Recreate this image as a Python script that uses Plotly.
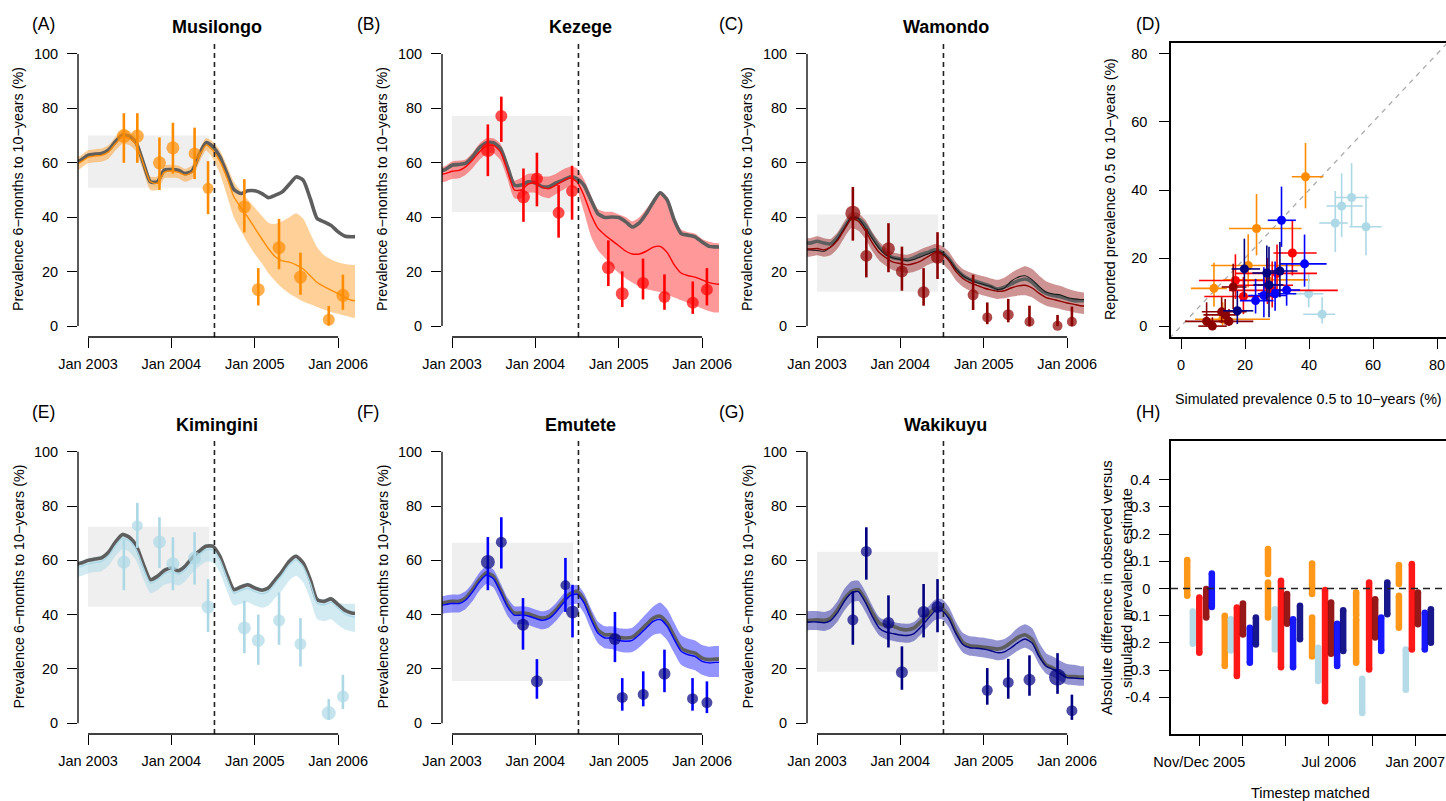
import plotly.graph_objects as go
import pandas as pd

W, H = 1446, 801
FONT = "Liberation Sans, Arial, Helvetica, sans-serif"

# ---------------- time grid / axes ----------------
MONTHS = pd.date_range("2002-11-01", "2006-04-01", freq="MS").strftime("%Y-%m-%d").tolist()
X_TICKS = ["2003-01-01", "2004-01-01", "2005-01-01", "2006-01-01"]
X_TICK_TEXT = ["Jan 2003", "Jan 2004", "Jan 2005", "Jan 2006"]
Y_TICKS = [0, 20, 40, 60, 80, 100]
INTERVENTION = "2004-07-08"
BOX_START, BOX_END = "2003-01-01", "2004-06-15"

# ---------------- (A) Musilongo ----------------
A_GREY = [59.5, 61, 62.8, 63.2, 63.4, 64.7, 67.7, 70.2, 69.8, 67.1, 59.8, 53, 53, 57.3, 57.5, 57.3, 56, 57, 62.8, 67.4,
          65.9, 62.2, 56, 50.2, 48.7, 49.7, 49.7, 48.7, 47.2, 48.1, 49.3, 52.1, 54.8, 53.6, 46.8, 39.5, 38.3, 37, 34.6, 33, 32.8, 33]
A_MED = [59, 60.3, 62, 62.5, 62.7, 64, 67, 69.5, 69, 66.5, 59.5, 53, 52.5, 56.5, 57, 56.5, 55.5, 56.5, 62, 66.5,
         64.5, 60.5, 54.5, 47.5, 43.5, 40, 36, 32, 28.5, 25.5, 24, 23.5, 22.5, 21, 18.5, 16, 14.5, 13.2, 12, 10.5, 9.5, 9.2]
A_HI = [61.5, 62.8, 64.6, 65, 65.2, 66.5, 69.5, 72, 71.6, 69, 61.6, 55, 55, 59, 59.3, 59, 57.8, 59, 64.5, 69,
        67.8, 64.5, 59, 53, 49.5, 46.5, 43.5, 40.5, 38, 37.5, 38.5, 40, 41.5, 39.5, 34, 29, 26, 24.5, 23.5, 22.8, 22.5, 22.5]
A_LO = [56.5, 58, 59.8, 60.2, 60.4, 61.5, 64.5, 67, 66.5, 64, 56.8, 50, 50, 54.3, 54.5, 54.3, 53, 54, 59.8, 64.5,
        61.5, 56, 48, 40, 35, 30.5, 26.5, 23, 19.5, 16.5, 14, 12, 10.5, 9, 8, 7, 6, 5.2, 4.5, 3.8, 3.2, 2.9]
A_DATES = ["2003-06-07", "2003-08-05", "2003-11-10", "2004-01-08", "2004-04-12", "2004-06-10",
           "2004-11-16", "2005-01-16", "2005-04-17", "2005-07-20", "2005-11-21", "2006-01-22"]
A_PREV = [69.8, 69.8, 60, 65.5, 63.4, 50.6, 43.8, 13.4, 28.8, 18.0, 2.3, 11.3]
A_ELO = [60, 60, 50, 56, 54, 41.1, 34.4, 7.6, 20.9, 11.5, 0.2, 6.0]
A_EHI = [78.2, 78.2, 69.3, 74.7, 72.9, 60.6, 54, 21.3, 39.4, 27, 7.4, 18.9]
A_SIZE = [14, 13, 13, 13, 12, 11, 13, 13, 13, 13, 12, 13]
A_BOX = [50.8, 70.0]

# ---------------- (B) Kezege ----------------
B_GREY = [56.7, 57.5, 59.1, 59.4, 59.8, 62.2, 65.5, 67.4, 67.4, 65.3, 58.5, 51.8, 51.8, 53, 52.6, 51.2, 51.2, 52.6, 53.6, 54.8,
          54.2, 51.8, 46.3, 41.3, 39.9, 40.1, 39.9, 38.3, 36.4, 37.9, 41.3, 45.6, 49, 46.3, 38.9, 34, 33.4, 32.8, 30.9, 29.3, 29.1, 29]
B_MED = [55.5, 56, 56.9, 57.2, 58.5, 61, 64, 66.2, 66.5, 64, 57, 50, 50, 52.2, 52.5, 51, 50.5, 51.8, 53.3, 54.5,
         53, 48, 41, 36, 33.5, 31.5, 29.5, 27.5, 26.5, 26.5, 27.5, 29, 29.3, 27, 22.5, 19.5, 18.5, 18, 17, 16, 15.5, 15.3]
B_HI = [58, 58.8, 60.5, 60.8, 61.2, 63.7, 67, 69, 69, 67, 60, 53.5, 54.5, 56, 56, 55, 55, 56, 57.5, 58.5,
        58, 54, 48, 43, 42, 42, 41, 40, 38.5, 40, 43, 46.5, 49.5, 47.5, 40, 35.5, 34.5, 34, 32, 31, 30.5, 30.5]
B_LO = [52.5, 53, 54, 54.3, 55.5, 58, 61, 63.2, 63.5, 61, 54, 47, 47, 49, 49, 47.5, 47, 48.5, 50, 51.5,
        50, 42, 33, 28, 25, 22, 19.5, 17.5, 16, 14.5, 13.5, 13, 12.5, 11.5, 10.5, 9.5, 8.5, 7.5, 6.5, 5.5, 5, 5]
B_DATES = A_DATES
B_PREV = [64.7, 77.2, 47.5, 54.2, 41.6, 49.6, 21.5, 11.9, 15.8, 10.7, 8.6, 13.4]
B_ELO = [55.1, 67.7, 38.3, 44, 32.5, 39.1, 14.7, 7.0, 9.8, 6.0, 4.5, 7.6]
B_EHI = [74.1, 84.3, 57.9, 63.7, 51.8, 58.9, 31.5, 20.1, 24.8, 19, 16.4, 21.3]
B_SIZE = [14, 12, 13, 12, 12, 12, 13, 13, 12, 12, 12, 12]
B_BOX = [41.9, 77.2]

# ---------------- (C) Wamondo ----------------
C_GREY = [30.8, 30.5, 31.2, 30.5, 30.2, 32.7, 36.4, 39.8, 39.4, 37, 32.7, 29, 26.5, 25.1, 24.7, 24.3, 25.1, 26.3, 27.1, 28,
          27.1, 24.7, 21, 18.6, 17.1, 16.3, 15.5, 14.6, 13.6, 14.3, 15.5, 16.7, 17.3, 16.1, 13.6, 12, 11.2, 10.8, 10, 9.3, 9.3, 9.3]
C_MED = [28.5, 28.3, 28.5, 28, 29, 31.5, 35.5, 39.5, 38.5, 35, 30.5, 27, 25, 23.5, 23, 22.5, 23, 24, 25.5, 27,
         26.5, 24, 20, 17.5, 16, 15, 14, 13.3, 12.8, 13, 14, 14.8, 15, 14, 12, 10.5, 9.8, 9.2, 8.5, 8, 7.5, 7.3]
C_HI = [32.5, 32.3, 33, 32.3, 32, 34.5, 38.5, 42, 41.5, 39, 34.5, 31, 28.5, 27, 26.5, 26.2, 27, 28.2, 29.2, 30.2,
        29.5, 27.3, 23.5, 21, 19.8, 19, 18.3, 17.5, 17, 17.8, 19.5, 21, 22, 21, 18.5, 16.5, 15.5, 14.8, 13.8, 13, 12.5, 12.3]
C_LO = [25.5, 25.5, 26, 25.5, 26, 28.5, 32.5, 36, 35, 32, 27.5, 24, 22, 20.5, 20, 19.5, 20, 21, 22.5, 23.5,
        23, 20.5, 16.8, 14.5, 13, 12, 11.2, 10.5, 10, 10.2, 10.8, 11.2, 11.3, 10.5, 8.8, 7.5, 6.8, 6.3, 5.6, 5, 4.6, 4.4]
C_BLACK = [28, 28, 27.8, 27.5, 29, 32, 36, 40, 39.5, 36, 32, 28.5, 26, 25, 24.5, 24, 24.5, 25.5, 26.5, 27.5,
           27, 24.5, 21, 18.5, 17, 16, 15.3, 14.5, 13.5, 14, 16.5, 18, 18.5, 17, 14.5, 12.5, 11.8, 11.5, 10.5, 10, 9.8, 9.8]
C_DATES = ["2003-06-07", "2003-08-05", "2003-11-10", "2004-01-08", "2004-04-12", "2004-06-12",
           "2004-11-15", "2005-01-16", "2005-04-18", "2005-07-20", "2005-11-20", "2006-01-22"]
C_PREV = [41.5, 25.8, 28.4, 20.1, 12.4, 25.3, 11.5, 3.2, 4.2, 1.6, 0.1, 1.6]
C_ELO = [31.4, 17.9, 19.8, 13, 7.5, 17.3, 5.9, 0.7, 1.4, 0, 0, 0]
C_EHI = [51.1, 35.7, 37.8, 29.2, 21.3, 34.5, 18.9, 8.7, 10, 7.5, 4.1, 7.2]
C_SIZE = [15, 12, 13, 12, 12, 13, 11, 10, 11, 10, 10, 10]
C_BOX = [12.6, 41.0]

# ---------------- (E) Kimingini ----------------
E_GREY = [58.4, 59, 60, 60.5, 60.9, 63, 66.7, 69.5, 68.5, 65.2, 58.4, 52.9, 54.1, 56.3, 57.2, 56.2, 57.8, 60.9, 63.3, 65.2,
          65.2, 61.5, 54.7, 49.2, 50.2, 51, 49.8, 49, 49.8, 52.9, 56, 59.7, 61.5, 59, 52.9, 45.5, 44.9, 45.8, 43.7, 41.5, 40.6, 40.5]
E_MED = [57, 57.7, 58.7, 59.2, 59.6, 61.7, 65.4, 68.2, 67.2, 63.9, 57.1, 51.6, 52.8, 55, 55.9, 54.9, 56.5, 59.6, 62, 63.9,
         63.9, 60.2, 53.4, 47.9, 48.9, 49.7, 48.5, 47.7, 48.5, 51.6, 54.7, 58.4, 60.2, 57.7, 51.6, 44.2, 43.6, 44.5, 42.4, 40.2, 39.3, 39.2]
E_HI = [59.2, 59.8, 60.8, 61.3, 61.7, 63.8, 67.5, 70.3, 69.3, 66, 59.2, 53.7, 54.9, 57.1, 58, 57, 58.6, 61.7, 64.1, 66,
        66, 62.3, 55.5, 50, 51, 51.8, 50.6, 49.8, 50.6, 53.7, 56.8, 60.5, 62.3, 59.8, 53.7, 46.3, 45.7, 46.6, 44.5, 44, 44, 44]
E_LO = [53.5, 54.2, 55.2, 55.7, 56, 58, 61.5, 64.2, 63.2, 59.8, 53, 48, 49, 51, 51.7, 50.7, 52.2, 55.3, 57.7, 59.5,
        59.3, 55.5, 48.7, 43.3, 44, 44.6, 43.4, 42.6, 43.3, 46.2, 49, 52.6, 54.3, 51.8, 45.6, 38.4, 37.6, 38.3, 36.2, 34.5, 33.8, 33.6]
E_DATES = A_DATES
E_PREV = [59.3, 72.8, 66.8, 58.8, 60.9, 42.8, 35.1, 30.5, 37.8, 29.2, 3.7, 9.8]
E_ELO = [49, 64.6, 57.2, 49, 51.1, 33.6, 25.8, 21.5, 28.9, 20.9, 1.2, 5.2]
E_EHI = [67.9, 81.2, 75.9, 68.5, 70.4, 53.1, 45.1, 40, 48.2, 38.7, 8.9, 17.8]
E_SIZE = [13, 11, 13, 13, 13, 13, 13, 13, 12, 12, 14, 12]
E_BOX = [42.9, 72.4]

# ---------------- (F) Emutete ----------------
F_GREY = [44, 44.5, 44.9, 44.9, 46.1, 49.2, 52.9, 55.4, 54.1, 49.2, 43.7, 40.6, 40.6, 40.3, 39.4, 38.7, 39.4, 41.8, 44.9, 47.7,
          48.6, 45.5, 39.4, 34.4, 32.6, 32.6, 31.7, 31.4, 31.7, 33.8, 36.3, 38.7, 39.4, 36.9, 32, 27.7, 26.4, 25.8, 24, 23.4, 23.6, 23.6]
F_MED = [43.2, 43.7, 44.1, 44.1, 45.3, 48.4, 52.1, 54.6, 53.3, 48.4, 42.9, 39.8, 39.8, 39.5, 38.6, 37.9, 38.6, 41, 44.1, 46.9,
         47.6, 44.4, 38.3, 33.2, 31.4, 31.4, 30.5, 30.2, 30.5, 32.6, 35.1, 37.5, 38.2, 35.7, 30.8, 26.5, 25.2, 24.6, 22.8, 22.2, 22.4, 22.4]
F_HI = [46.5, 47, 47.4, 47.4, 48.6, 51.7, 55.4, 57.9, 56.6, 51.7, 46.2, 43.1, 43.1, 42.8, 41.9, 41.2, 41.9, 44.3, 47.4, 50.2,
        51, 48, 42.3, 37.5, 35.7, 35.7, 35, 34.8, 35.2, 37.6, 40.3, 43, 44.5, 42, 37, 32.5, 31.2, 30.5, 28.8, 28.2, 28.4, 28.4]
F_LO = [40, 40.5, 40.8, 40.8, 42, 45, 48.8, 51.3, 50, 45, 39.6, 36.5, 36.5, 36.2, 35.3, 34.6, 35.3, 37.7, 40.8, 43.5,
        44, 40.6, 34.5, 29.5, 27.5, 27.3, 26.4, 26, 26.2, 28, 30.3, 32.5, 33, 30.5, 25.8, 21.5, 20.2, 19.5, 17.8, 17, 17, 17]
F_DATES = ["2003-06-07", "2003-08-05", "2003-11-08", "2004-01-08", "2004-05-12", "2004-06-12",
           "2004-12-15", "2005-01-16", "2005-04-18", "2005-07-20", "2005-11-20", "2006-01-22"]
F_PREV = [59.4, 66.7, 36.3, 15.4, 50.8, 41, 31, 9.5, 10.6, 18.2, 9.0, 7.6]
F_ELO = [49, 57, 27.1, 9.0, 41, 31.6, 22.5, 4.6, 6.2, 11.4, 4.6, 3.7]
F_EHI = [68.6, 75.9, 46.1, 23.6, 60.9, 51, 41, 16.6, 19.1, 27.1, 16.6, 15.4]
F_SIZE = [14, 11, 12, 12, 10, 13, 12, 11, 11, 12, 11, 11]
F_BOX = [15.5, 66.5]

# ---------------- (G) Wakikuyu ----------------
G_GREY = [37.5, 37.9, 38.1, 37.9, 38.7, 41.8, 45.8, 48.6, 49.2, 45.5, 40.6, 36.9, 35.9, 35.7, 34.7, 34.4, 35.1, 37.5, 40, 42.4,
          42.4, 39.4, 33.8, 29.8, 28.5, 28.3, 28, 27.7, 27.3, 28, 29.8, 31.7, 32.6, 30.8, 25.2, 21.5, 20.3, 18.7, 17.2, 17.2, 17, 17]
G_MED = [37, 37.3, 37.3, 37, 37.8, 40.8, 45, 48, 48.5, 44.5, 39.2, 35, 33.5, 33, 32.5, 32.3, 33, 35.5, 38.5, 41.3,
         41.5, 38.5, 33, 29, 27.8, 27.6, 27.3, 26.7, 26, 26.3, 27.8, 29.8, 31, 29.5, 24.5, 21, 19.8, 18.2, 16.8, 16.6, 16.4, 16.4]
G_HI = [41, 41.3, 41.3, 41, 41.8, 45, 49.5, 52.3, 52.5, 48.5, 43.2, 39, 37.8, 37.3, 36.8, 36.6, 37.3, 39.8, 42.8, 45.5,
        45.8, 42.8, 37.3, 33.3, 32, 31.8, 31.5, 31, 30.5, 31, 32.8, 35.3, 36.5, 35, 29.5, 25.8, 24.5, 23, 21.8, 21.5, 21, 21]
G_LO = [34, 34.3, 34.3, 34, 34.8, 37.5, 41.5, 44.5, 45, 41, 36, 32.3, 30.8, 30.3, 29.8, 29.6, 30.3, 32.8, 35.5, 38,
        38.3, 35.2, 29.8, 26, 24.8, 24.6, 24.2, 23.7, 23.2, 23.5, 25, 26.8, 27.8, 26.3, 21.5, 18.2, 17, 15.5, 14.2, 14, 13.8, 13.8]
G_DATES = ["2003-06-07", "2003-08-05", "2003-11-10", "2004-01-08", "2004-04-12", "2004-06-12",
           "2005-01-16", "2005-04-18", "2005-07-20", "2005-11-20", "2006-01-22"]
G_PREV = [38.1, 63.3, 36.9, 18.8, 41, 42.8, 12.1, 15.0, 16.0, 16.9, 4.6]
G_ELO = [28.9, 52.9, 27.9, 12.3, 31.6, 33.5, 6.8, 9, 10.1, 10.8, 1.2]
G_EHI = [48.6, 72.2, 47.1, 28.3, 51.3, 53.1, 20.3, 23.7, 25, 25.8, 10.5]
G_SIZE = [11, 11, 12, 12, 12, 12, 11, 11, 12, 17, 11]
G_BOX = [18.9, 63.2]

# ---------------- (D) observed vs simulated ----------------
D_ORANGE_X = [38.9, 23.6, 21.0, 10.3, 13.0, 27.0]
D_ORANGE_Y = [43.9, 28.7, 17.8, 11.1, 2.0, 13.6]
D_ORANGE_XLO = [34.6, 15.0, 9.4, 3.1, 4.4, 13.2]
D_ORANGE_XHI = [44.5, 37.7, 40.0, 14.3, 27.8, 40.3]
D_ORANGE_YLO = [34.6, 20.8, 11.4, 5.7, 0.2, 7.5]
D_ORANGE_YHI = [53.8, 38.8, 27.0, 18.6, 7.0, 20.0]

D_LBLUE_X = [53.3, 50.2, 48.2, 57.8, 39.9, 44.1]
D_LBLUE_Y = [37.8, 35.3, 30.3, 29.2, 9.5, 3.5]
D_LBLUE_XLO = [48.1, 45.5, 43.2, 52.6, 35.1, 38.2]
D_LBLUE_XHI = [58.6, 56.8, 52.1, 62.7, 44.5, 48.2]
D_LBLUE_YLO = [29.2, 26.2, 21.8, 20.8, 5.5, 0.8]
D_LBLUE_YHI = [47.9, 44.9, 39.7, 38.7, 15.4, 8.5]

D_RED_X = [34.8, 17.0, 19.5, 28.5, 30.0, 27.0]
D_RED_Y = [21.5, 13.4, 8.7, 10.5, 15.5, 12.0]
D_RED_XLO = [28.9, 5.6, 7.3, 15.0, 17.0, 15.5]
D_RED_XHI = [42.4, 26.8, 29.9, 49.0, 42.5, 35.0]
D_RED_YLO = [14.9, 8.0, 3.5, 5.5, 9.0, 6.5]
D_RED_YHI = [31.1, 21.1, 14.4, 19.0, 24.0, 20.0]

D_DRED_X = [16.3, 9.8, 8.0, 12.7, 13.8, 15.0]
D_DRED_Y = [11.5, 0.0, 1.4, 4.2, 3.3, 1.4]
D_DRED_XLO = [12.7, 5.4, 1.3, 6.5, 7.0, 8.0]
D_DRED_XHI = [20.5, 14.3, 14.3, 20.5, 18.0, 22.6]
D_DRED_YLO = [5.0, 0.0, 0.0, 1.0, 0.5, 0.0]
D_DRED_YHI = [18.3, 2.6, 7.0, 8.5, 8.0, 5.0]

D_BLUE_X = [31.4, 38.6, 23.3, 25.9, 33.0, 29.4]
D_BLUE_Y = [31.1, 18.3, 7.5, 9.0, 10.6, 9.5]
D_BLUE_XLO = [27.1, 30.9, 18.4, 21.0, 28.3, 24.0]
D_BLUE_XHI = [35.9, 45.5, 28.9, 33.0, 37.2, 36.0]
D_BLUE_YLO = [23.3, 11.6, 3.7, 2.6, 6.0, 4.5]
D_BLUE_YHI = [41.0, 26.9, 13.9, 17.3, 18.3, 19.0]

D_NAVY_X = [19.8, 17.6, 26.8, 27.5, 30.9]
D_NAVY_Y = [16.8, 4.5, 15.6, 12.1, 16.2]
D_NAVY_XLO = [15.8, 13.2, 22.3, 22.6, 26.4]
D_NAVY_XHI = [24.7, 22.6, 30.9, 32.0, 36.4]
D_NAVY_YLO = [8.5, 0.6, 7.5, 2.6, 8.5]
D_NAVY_YHI = [25.7, 10.4, 23.7, 23.3, 24.7]

DIAG = [-10, 100]

# ---------------- (H) absolute difference strips ----------------
H_TICKS = [1, 2, 3, 4, 5, 6]
H_TICK_TEXT = ["Nov/Dec 2005", "", "", "Jul 2006", "", "Jan 2007"]
H_Y_TICKS = [-0.4, -0.3, -0.2, -0.1, 0, 0.1, 0.2, 0.3, 0.4]
H_Y_TEXT = ["-0.4", "-0.3", "-0.2", "-0.1", "0", "0.1", "0.2", "0.3", "0.4"]

H_ORANGE_X = [0.72, 1.59, 2.59, 2.59, 3.61, 3.61, 4.63, 4.63, 5.62, 5.62]
H_ORANGE_TOP = [0.105, -0.10, 0.145, 0.022, 0.092, -0.107, -0.015, -0.113, 0.086, -0.027]
H_ORANGE_BOT = [-0.027, -0.285, 0.053, -0.107, -0.02, -0.25, -0.10, -0.273, 0.016, -0.144]
H_LBLUE_X = [0.85, 1.73, 2.75, 3.75, 4.77, 5.78]
H_LBLUE_TOP = [-0.085, -0.113, -0.076, -0.218, -0.332, -0.224]
H_LBLUE_BOT = [-0.203, -0.228, -0.224, -0.34, -0.458, -0.372]
H_RED_X = [1.0, 1.87, 2.89, 3.91, 4.93, 5.92]
H_RED_TOP = [-0.033, -0.07, 0.028, -0.006, 0.022, 0.09]
H_RED_BOT = [-0.236, -0.322, -0.29, -0.415, -0.298, -0.224]
H_DRED_X = [1.16, 2.01, 3.03, 4.05, 5.07, 6.06]
H_DRED_TOP = [-0.002, -0.055, -0.02, -0.052, -0.04, -0.015]
H_DRED_BOT = [-0.107, -0.169, -0.13, -0.24, -0.18, -0.132]
H_BLUE_X = [1.29, 2.17, 3.17, 4.19, 5.21, 6.22]
H_BLUE_TOP = [0.055, -0.144, -0.113, -0.13, -0.107, -0.089]
H_BLUE_BOT = [-0.068, -0.273, -0.29, -0.285, -0.23, -0.224]
H_NAVY_X = [2.31, 3.33, 4.33, 5.35, 6.36]
H_NAVY_TOP = [-0.107, -0.064, -0.08, 0.022, -0.076]
H_NAVY_BOT = [-0.206, -0.187, -0.23, -0.095, -0.2]

# ---------------- colours ----------------
ORANGE, RED, DRED = "#FF8C00", "#FF0000", "#8B0000"
LBLUE, BLUE, NAVY = "#ADD8E6", "#0000FF", "#000080"
GREY_LINE = "#5E5E5E"

# ---------------- layout geometry (pixels) ----------------
COLS = [(78, 355), (442, 719), (807, 1084), (1171, 1446)]
ROWS = [(43, 337), (441, 734)]
LETTER_X = [43, 368, 731, 1148]
LETTER_Y = [24, 412]
TITLE_Y = [27, 425]

TICK_SIZE = 14.5
AXT_SIZE = 14.3
TITLE_SIZE = 18
LETTER_SIZE = 17.5


def px(x):
    return x / W


def py(y):
    return 1 - y / H


def note(text, x, y, size, angle=0, **kw):
    d = dict(text=text, x=px(x), y=py(y), xref="paper", yref="paper", showarrow=False,
             xanchor="center", yanchor="middle", textangle=angle,
             font=dict(size=size, family=FONT, color="black"))
    d.update(kw)
    return d


fig = go.Figure()
layout = dict(width=W, height=H, margin=dict(l=0, r=0, t=0, b=0, pad=0),
              paper_bgcolor="white", plot_bgcolor="white", showlegend=False,
              font=dict(family=FONT, color="black"))
shapes, annotations = [], []

TS_PANELS = [
    dict(n=1, col=0, row=0, letter="(A)", title="Musilongo", grey=A_GREY, med=A_MED, lo=A_LO, hi=A_HI,
         dates=A_DATES, prev=A_PREV, elo=A_ELO, ehi=A_EHI, size=A_SIZE, box=A_BOX,
         pcol=ORANGE, ecol=ORANGE, lcol=ORANGE, band="rgba(255,140,0,0.40)"),
    dict(n=2, col=1, row=0, letter="(B)", title="Kezege", grey=B_GREY, med=B_MED, lo=B_LO, hi=B_HI,
         dates=B_DATES, prev=B_PREV, elo=B_ELO, ehi=B_EHI, size=B_SIZE, box=B_BOX,
         pcol=RED, ecol=RED, lcol=RED, band="rgba(255,0,0,0.40)"),
    dict(n=3, col=2, row=0, letter="(C)", title="Wamondo", grey=C_GREY, med=C_MED, lo=C_LO, hi=C_HI,
         dates=C_DATES, prev=C_PREV, elo=C_ELO, ehi=C_EHI, size=C_SIZE, box=C_BOX,
         pcol=DRED, ecol=DRED, lcol=DRED, band="rgba(139,0,0,0.42)", black=C_BLACK),
    dict(n=5, col=0, row=1, letter="(E)", title="Kimingini", grey=E_GREY, med=E_MED, lo=E_LO, hi=E_HI,
         dates=E_DATES, prev=E_PREV, elo=E_ELO, ehi=E_EHI, size=E_SIZE, box=E_BOX,
         pcol=LBLUE, ecol=LBLUE, lcol=LBLUE, band="rgba(173,216,230,0.55)"),
    dict(n=6, col=1, row=1, letter="(F)", title="Emutete", grey=F_GREY, med=F_MED, lo=F_LO, hi=F_HI,
         dates=F_DATES, prev=F_PREV, elo=F_ELO, ehi=F_EHI, size=F_SIZE, box=F_BOX,
         pcol=NAVY, ecol=BLUE, lcol=BLUE, band="rgba(0,0,255,0.42)"),
    dict(n=7, col=2, row=1, letter="(G)", title="Wakikuyu", grey=G_GREY, med=G_MED, lo=G_LO, hi=G_HI,
         dates=G_DATES, prev=G_PREV, elo=G_ELO, ehi=G_EHI, size=G_SIZE, box=G_BOX,
         pcol=NAVY, ecol=NAVY, lcol=NAVY, band="rgba(0,0,150,0.42)"),
]

TICKFONT = dict(family=FONT, size=TICK_SIZE, color="black")
AX_COMMON = dict(ticks="outside", ticklen=10, tickwidth=1.3, tickcolor="black", showgrid=False,
                 zeroline=False, tickfont=TICKFONT, automargin=False, fixedrange=True)


def axis_names(n):
    return ("xaxis" if n == 1 else f"xaxis{n}", "yaxis" if n == 1 else f"yaxis{n}",
            "x" if n == 1 else f"x{n}", "y" if n == 1 else f"y{n}")


for p in TS_PANELS:
    n = p["n"]
    xa, ya, xr, yr = axis_names(n)
    c0, c1 = COLS[p["col"]]
    r0, r1 = ROWS[p["row"]]
    layout[xa] = dict(domain=[px(c0), px(c1)], anchor=yr, type="date",
                      range=["2002-11-18", "2006-03-16"], tickvals=X_TICKS, ticktext=X_TICK_TEXT,
                      showline=False, ticklabelstandoff=4, **AX_COMMON)
    layout[ya] = dict(domain=[py(r1), py(r0)], anchor=xr, range=[-4, 104], tickvals=Y_TICKS,
                      showline=False, ticklabelstandoff=6, **AX_COMMON)
    # band
    fig.add_trace(go.Scatter(x=MONTHS, y=p["lo"], mode="lines", line=dict(width=0, shape="spline", smoothing=0.6),
                             xaxis=xr, yaxis=yr, hoverinfo="skip"))
    fig.add_trace(go.Scatter(x=MONTHS, y=p["hi"], mode="lines", line=dict(width=0, shape="spline", smoothing=0.6),
                             fill="tonexty", fillcolor=p["band"], xaxis=xr, yaxis=yr, hoverinfo="skip"))
    # grey (no-intervention) trajectory
    fig.add_trace(go.Scatter(x=MONTHS, y=p["grey"], mode="lines",
                             line=dict(color=GREY_LINE, width=3.6, shape="spline", smoothing=0.6),
                             xaxis=xr, yaxis=yr))
    if "black" in p:
        fig.add_trace(go.Scatter(x=MONTHS, y=p["black"], mode="lines",
                                 line=dict(color="#1A1A1A", width=1.1, shape="spline", smoothing=0.6),
                                 xaxis=xr, yaxis=yr))
    fig.add_trace(go.Scatter(x=MONTHS, y=p["med"], mode="lines",
                             line=dict(color=p["lcol"], width=1.4, shape="spline", smoothing=0.6),
                             xaxis=xr, yaxis=yr))
    # observations
    fig.add_trace(go.Scatter(
        x=p["dates"], y=p["prev"], mode="markers",
        marker=dict(color=p["pcol"], size=p["size"], line=dict(width=0)),
        error_y=dict(type="data", symmetric=False,
                     array=[h - v for h, v in zip(p["ehi"], p["prev"])],
                     arrayminus=[v - l for v, l in zip(p["prev"], p["elo"])],
                     color=p["ecol"], thickness=2.6, width=0),
        xaxis=xr, yaxis=yr))
    # pre-intervention range box
    shapes.append(dict(type="rect", xref=xr, yref=yr, x0=BOX_START, x1=BOX_END,
                       y0=p["box"][0], y1=p["box"][1], fillcolor="#EFEFEF", line=dict(width=0), layer="below"))
    # intervention line
    shapes.append(dict(type="line", xref=xr, yref=f"{yr} domain", x0=INTERVENTION, x1=INTERVENTION,
                       y0=0, y1=1, line=dict(color="#222222", width=1.6, dash="5px,4px")))
    # R-style axis lines spanning the tick range only
    shapes.append(dict(type="line", xref=xr, yref="paper", x0=X_TICKS[0], x1=X_TICKS[-1],
                       y0=py(r1), y1=py(r1), line=dict(color="black", width=1.3)))
    shapes.append(dict(type="line", xref="paper", yref=yr, x0=px(c0), x1=px(c0),
                       y0=Y_TICKS[0], y1=Y_TICKS[-1], line=dict(color="black", width=1.3)))
    # texts
    annotations.append(note(p["letter"], LETTER_X[p["col"]], LETTER_Y[p["row"]], LETTER_SIZE))
    annotations.append(note(f"<b>{p['title']}</b>", (c0 + c1) / 2, TITLE_Y[p["row"]], TITLE_SIZE))
    annotations.append(note("Prevalence 6\u2212months to 10\u2212years (%)", c0 - 60, (r0 + r1) / 2 - 1,
                            AXT_SIZE, angle=-90))

# ---------------- panel D ----------------
c0, c1 = COLS[3]
r0, r1 = ROWS[0]
layout["xaxis4"] = dict(domain=[px(c0), px(c1)], anchor="y4", range=[-3.125, 82.8], tickvals=[0, 20, 40, 60, 80],
                        showline=True, linecolor="black", linewidth=1.5, mirror=True,
                        ticklabelstandoff=4, **AX_COMMON)
layout["yaxis4"] = dict(domain=[py(r1), py(r0)], anchor="x4", range=[-3.2, 83.2], tickvals=[0, 20, 40, 60, 80],
                        showline=True, linecolor="black", linewidth=1.5, mirror=False,
                        ticklabelstandoff=9, **AX_COMMON)
fig.add_trace(go.Scatter(x=DIAG, y=DIAG, mode="lines", line=dict(color="#AAAAAA", width=1.3, dash="5px,5px"),
                         xaxis="x4", yaxis="y4"))
D_SETS = [
    (ORANGE, D_ORANGE_X, D_ORANGE_Y, D_ORANGE_XLO, D_ORANGE_XHI, D_ORANGE_YLO, D_ORANGE_YHI),
    (LBLUE, D_LBLUE_X, D_LBLUE_Y, D_LBLUE_XLO, D_LBLUE_XHI, D_LBLUE_YLO, D_LBLUE_YHI),
    (RED, D_RED_X, D_RED_Y, D_RED_XLO, D_RED_XHI, D_RED_YLO, D_RED_YHI),
    (DRED, D_DRED_X, D_DRED_Y, D_DRED_XLO, D_DRED_XHI, D_DRED_YLO, D_DRED_YHI),
    (BLUE, D_BLUE_X, D_BLUE_Y, D_BLUE_XLO, D_BLUE_XHI, D_BLUE_YLO, D_BLUE_YHI),
    (NAVY, D_NAVY_X, D_NAVY_Y, D_NAVY_XLO, D_NAVY_XHI, D_NAVY_YLO, D_NAVY_YHI),
]
for col, xs, ys, xlo, xhi, ylo, yhi in D_SETS:
    fig.add_trace(go.Scatter(
        x=xs, y=ys, mode="markers", marker=dict(color=col, size=9, line=dict(width=0)),
        error_x=dict(type="data", symmetric=False, array=[h - v for h, v in zip(xhi, xs)],
                     arrayminus=[v - l for v, l in zip(xs, xlo)], color=col, thickness=1.6, width=0),
        error_y=dict(type="data", symmetric=False, array=[h - v for h, v in zip(yhi, ys)],
                     arrayminus=[v - l for v, l in zip(ys, ylo)], color=col, thickness=1.6, width=0),
        xaxis="x4", yaxis="y4"))
annotations.append(note("(D)", LETTER_X[3], LETTER_Y[0], LETTER_SIZE))
annotations.append(note("Reported prevalence 0.5 to 10\u2212years (%)", 1110, 189, AXT_SIZE, angle=-90))
annotations.append(note("Simulated prevalence 0.5 to 10\u2212years (%)", 1308, 399, AXT_SIZE))

# ---------------- panel H ----------------
c0, c1 = COLS[3]
r0, r1 = ROWS[1]
layout["xaxis8"] = dict(domain=[px(c0), px(c1)], anchor="y8", range=[0.345, 6.71], tickvals=H_TICKS,
                        ticktext=H_TICK_TEXT, showline=True, linecolor="black", linewidth=1.5,
                        mirror=True, ticklabelstandoff=4, **AX_COMMON)
layout["yaxis8"] = dict(domain=[py(r1), py(r0)], anchor="x8", range=[-0.535, 0.542], tickvals=H_Y_TICKS,
                        ticktext=H_Y_TEXT, showline=True, linecolor="black", linewidth=1.5,
                        mirror=False, ticklabelstandoff=6, **AX_COMMON)
shapes.append(dict(type="line", xref="x8 domain", yref="y8", x0=0, x1=1, y0=0, y1=0,
                   line=dict(color="#222222", width=1.4, dash="7px,5px")))
H_SETS = [
    (ORANGE, H_ORANGE_X, H_ORANGE_TOP, H_ORANGE_BOT),
    (LBLUE, H_LBLUE_X, H_LBLUE_TOP, H_LBLUE_BOT),
    (RED, H_RED_X, H_RED_TOP, H_RED_BOT),
    (DRED, H_DRED_X, H_DRED_TOP, H_DRED_BOT),
    (BLUE, H_BLUE_X, H_BLUE_TOP, H_BLUE_BOT),
    (NAVY, H_NAVY_X, H_NAVY_TOP, H_NAVY_BOT),
]
for col, xs, tops, bots in H_SETS:
    sx, sy = [], []
    for x, t, b in zip(xs, tops, bots):
        sx += [x, x, None]
        sy += [t, b, None]
    fig.add_trace(go.Scatter(x=sx, y=sy, mode="lines+markers", connectgaps=False,
                             line=dict(color=col, width=6.5),
                             marker=dict(color=col, size=6.5, line=dict(width=0)),
                             opacity=0.9, xaxis="x8", yaxis="y8"))
annotations.append(note("(H)", LETTER_X[3], LETTER_Y[1], LETTER_SIZE))
annotations.append(note("Absolute difference in observed versus", 1107, 588, 14.8, angle=-90))
annotations.append(note("simulated prevalence estimate", 1127, 588, 14.8, angle=-90))
annotations.append(note("Timestep matched", 1310, 783, 14.5, yanchor="top"))

layout["shapes"] = shapes
layout["annotations"] = annotations
fig.update_layout(**layout)
fig.write_html("out.html")
